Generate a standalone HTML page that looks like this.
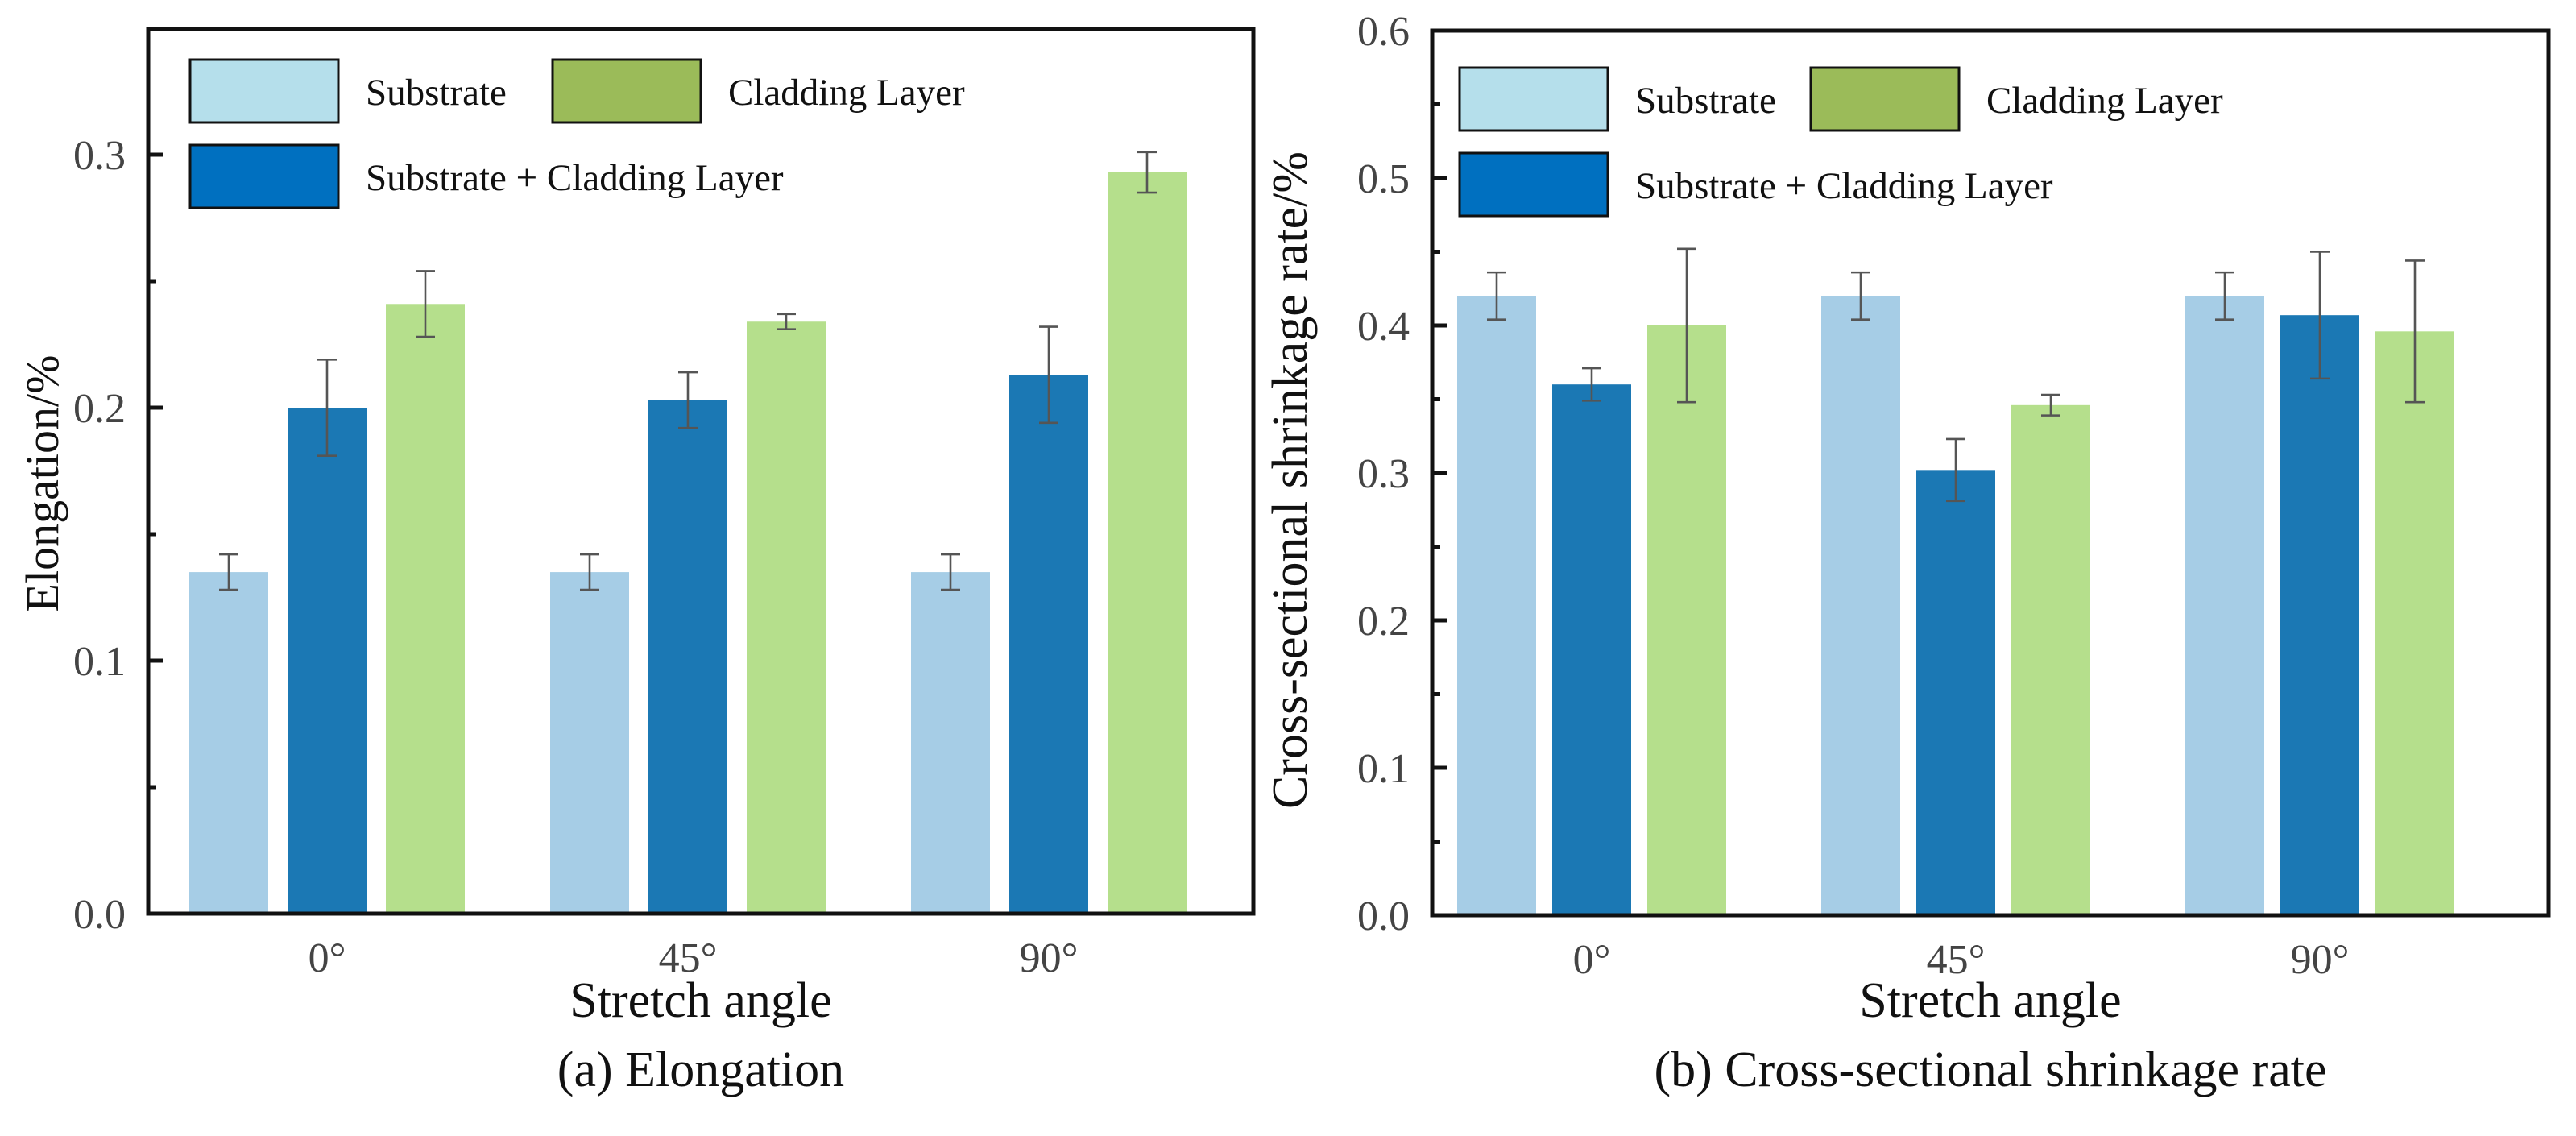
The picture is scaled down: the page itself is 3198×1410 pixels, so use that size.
<!DOCTYPE html>
<html><head><meta charset="utf-8"><style>
html,body{margin:0;padding:0;background:#fff;}
svg{display:block;font-family:"Liberation Serif",serif;}
</style></head>
<body>
<svg id="fig" width="3198" height="1410" viewBox="0 0 1599 705" xmlns="http://www.w3.org/2000/svg"></svg>
<script>
const categories = ["0°","45°","90°"];
const seriesNames = ["Substrate","Substrate + Cladding Layer","Cladding Layer"];
// Chart (a) Elongation
const elongSubstrate = [0.135,0.135,0.135];
const elongSubstrateErr = [0.007,0.007,0.007];
const elongCombined = [0.200,0.203,0.213];
const elongCombinedErr = [0.019,0.011,0.019];
const elongCladding = [0.241,0.234,0.293];
const elongCladdingErr = [0.013,0.003,0.008];
const elongTicks = [0.0,0.1,0.2,0.3];
const elongTickLabels = ["0.0","0.1","0.2","0.3"];
// Chart (b) Shrinkage
const shrinkSubstrate = [0.420,0.420,0.420];
const shrinkSubstrateErr = [0.016,0.016,0.016];
const shrinkCombined = [0.360,0.302,0.407];
const shrinkCombinedErr = [0.011,0.021,0.043];
const shrinkCladding = [0.400,0.346,0.396];
const shrinkCladdingErr = [0.052,0.007,0.048];
const shrinkTicks = [0.0,0.1,0.2,0.3,0.4,0.5,0.6];
const shrinkTickLabels = ["0.0","0.1","0.2","0.3","0.4","0.5","0.6"];

const NS="http://www.w3.org/2000/svg";
const svg=document.getElementById('fig');
function mk(tag,attrs,parent){const e=document.createElementNS(NS,tag);for(const k in attrs)e.setAttribute(k,attrs[k]);(parent||svg).appendChild(e);return e;}
const barColors=["#a6cde6","#1b78b4","#b5df8c"];
const legColors=["#b5dfeb","#0070c0","#9bbb59"];

function drawChart(cfg){
  const g=mk('g',{});
  
  
  const L=cfg.left,R=cfg.right,T=cfg.top,B=cfg.bottom;
  const y=v=>B-(v-0)/(cfg.ymax)*(B-cfg.ymaxPx);
  const x=i=>cfg.firstGroup+i*cfg.groupStep;
  const series=[cfg.s1,cfg.s2,cfg.s3], errs=[cfg.e1,cfg.e2,cfg.e3];
  for(let s=0;s<3;s++){
    for(let i=0;i<categories.length;i++){
      const cx=x(i)+(s-1)*cfg.barStep;
      const r=mk('rect',{x:cx-cfg.barW/2,y:y(series[s][i]),width:cfg.barW,height:B-y(series[s][i]),fill:barColors[s]},g);
      
      
      const top=y(series[s][i]+errs[s][i]),bot=y(series[s][i]-errs[s][i]);
      const eb=mk('path',{d:`M${cx},${top}V${bot}M${cx-6},${top}H${cx+6}M${cx-6},${bot}H${cx+6}`,stroke:"#555",'stroke-width':1.3,fill:"none"},g);
      
      
    }
  }
  const fr=mk('rect',{x:L,y:T,width:R-L,height:B-T,fill:"none",stroke:"#111",'stroke-width':2.5},g);
  
  
  for(let k=0;k<cfg.ticks.length;k++){
    const ty=y(cfg.ticks[k]);
    mk('line',{x1:L,x2:L+9,y1:ty,y2:ty,stroke:"#111",'stroke-width':2.5},g);
    const t=mk('text',{x:L-14,y:ty+9,'text-anchor':'end','font-size':26,fill:"#444"},g);
    t.textContent=cfg.tickLabels[k];
    
    
    if(k<cfg.ticks.length-1 || cfg.extraMinor){
      const my=y(cfg.ticks[k]+cfg.step/2);
      if(my>T) mk('line',{x1:L,x2:L+5,y1:my,y2:my,stroke:"#111",'stroke-width':2.5},g);
    }
  }
  for(let i=0;i<categories.length;i++){
    const t=mk('text',{x:x(i),y:B+36,'text-anchor':'middle','font-size':26,fill:"#444"},g);
    t.textContent=categories[i];
    
    
  }
  const xt=mk('text',{x:(L+R)/2,y:631,'text-anchor':'middle','font-size':31,fill:"#111"},g);
  xt.textContent="Stretch angle";
  
  
  const cap=mk('text',{x:(L+R)/2,y:674,'text-anchor':'middle','font-size':31,fill:"#111"},g);
  cap.textContent=cfg.caption;
  
  
  const yt=mk('text',{x:0,y:0,'text-anchor':'middle','font-size':cfg.ytSize,fill:"#111",transform:`translate(${cfg.ytX},${cfg.ytY}) rotate(-90)`},g);
  yt.textContent=cfg.ytitle;
  
  
  const lg=mk('g',{},g);
  
  
  const ents=[[cfg.lx,cfg.ly,0,seriesNames[0]],[cfg.lx2,cfg.ly,2,seriesNames[2]],[cfg.lx,cfg.ly+53,1,seriesNames[1]]];
  for(const [ex,ey,c,name] of ents){
    const sw=mk('rect',{x:ex,y:ey,width:92,height:39,fill:legColors[c],stroke:"#111",'stroke-width':1.5},lg);
    
    
    const t=mk('text',{x:ex+109,y:ey+28,'font-size':23.5,fill:"#111"},lg);
    t.textContent=name;
    
    
  }
}
drawChart({key:'a',name:'elongation-chart',left:92,right:778,top:18,bottom:567,ymax:0.3,ymaxPx:96,
  firstGroup:203,groupStep:224,barW:49,barStep:61,s1:elongSubstrate,s2:elongCombined,s3:elongCladding,
  e1:elongSubstrateErr,e2:elongCombinedErr,e3:elongCladdingErr,ticks:elongTicks,tickLabels:elongTickLabels,step:0.1,extraMinor:true,
  caption:"(a) Elongation",ytitle:"Elongation/%",ytX:36,ytY:300,ytSize:29,lx:118,lx2:343,ly:37});
drawChart({key:'b',name:'shrinkage-chart',left:889,right:1582,top:19,bottom:568,ymax:0.6,ymaxPx:19,
  firstGroup:988,groupStep:226,barW:49,barStep:59,s1:shrinkSubstrate,s2:shrinkCombined,s3:shrinkCladding,
  e1:shrinkSubstrateErr,e2:shrinkCombinedErr,e3:shrinkCladdingErr,ticks:shrinkTicks,tickLabels:shrinkTickLabels,step:0.1,extraMinor:false,
  caption:"(b) Cross-sectional shrinkage rate",ytitle:"Cross-sectional shrinkage rate/%",ytX:811,ytY:298,ytSize:31,lx:906,lx2:1124,ly:42});
</script>
</body></html>
